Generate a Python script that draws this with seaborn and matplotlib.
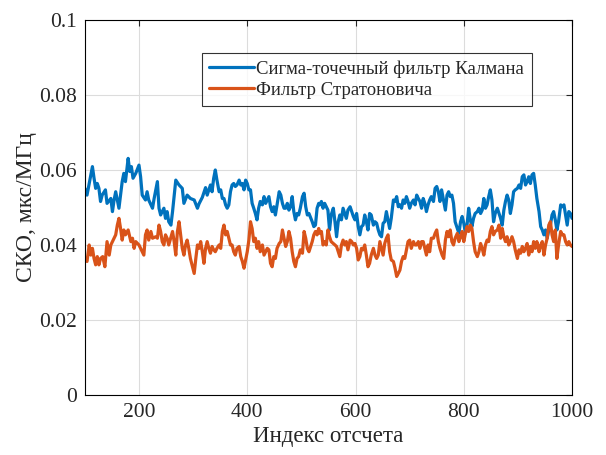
import numpy as np
import pandas as pd
import matplotlib
matplotlib.use("Agg")
import matplotlib.pyplot as plt
import seaborn as sns

# values
ukf_idx = [100, 104, 111, 114, 117, 120, 123, 126, 129, 132, 138, 141, 148, 151, 154, 157, 163, 169, 172, 175,
           180, 183, 186, 189, 194, 200, 203, 206, 212, 215, 218, 225, 228, 234, 237, 240, 246, 249, 252, 255,
           259, 262, 268, 274, 280, 283, 289, 295, 302, 308, 311, 317, 323, 326, 332, 335, 338, 341, 344, 348,
           351, 354, 357, 360, 363, 366, 369, 372, 375, 378, 381, 385, 388, 391, 394, 397, 400, 403, 406, 409,
           412, 415, 418, 421, 424, 428, 431, 434, 437, 440, 443, 446, 449, 452, 459, 462, 465, 468, 471, 474,
           477, 480, 483, 486, 489, 492, 495, 498, 502, 505, 508, 511, 514, 520, 523, 526, 529, 532, 534, 537,
           540, 543, 546, 549, 552, 555, 559, 562, 565, 568, 571, 574, 577, 580, 583, 586, 590, 593, 596, 599,
           602, 605, 608, 611, 614, 617, 620, 623, 626, 629, 633, 636, 639, 642, 645, 648, 651, 654, 657, 660,
           663, 666, 670, 673, 676, 679, 682, 685, 688, 691, 694, 697, 700, 703, 707, 710, 713, 716, 719, 722,
           725, 728, 731, 734, 737, 740, 744, 747, 750, 753, 756, 759, 763, 766, 769, 772, 775, 778, 781, 784,
           788, 791, 794, 797, 800, 803, 806, 809, 812, 815, 818, 821, 825, 828, 831, 834, 837, 840, 843, 846,
           849, 852, 855, 858, 862, 865, 868, 871, 874, 877, 880, 883, 886, 889, 892, 895, 899, 902, 905, 908,
           911, 914, 917, 920, 923, 926, 929, 932, 935, 939, 942, 945, 948, 951, 954, 957, 960, 963, 966, 969,
           972, 975, 979, 982, 985, 988, 991, 994, 997, 1000]
ukf_rmse = [0.0551, 0.0533, 0.0587, 0.0609, 0.0578, 0.0551, 0.0564, 0.0551, 0.0516, 0.0533, 0.0547, 0.0511, 0.0524, 0.0489, 0.0520, 0.0542, 0.0498, 0.0569, 0.0591, 0.0569,
            0.0631, 0.0596, 0.0609, 0.0578, 0.0591, 0.0613, 0.0582, 0.0533, 0.0520, 0.0542, 0.0520, 0.0498, 0.0524, 0.0569, 0.0498, 0.0480, 0.0498, 0.0471, 0.0489, 0.0462,
            0.0453, 0.0489, 0.0573, 0.0560, 0.0551, 0.0511, 0.0533, 0.0524, 0.0520, 0.0498, 0.0510, 0.0527, 0.0553, 0.0533, 0.0560, 0.0542, 0.0578, 0.0600, 0.0573, 0.0542,
            0.0547, 0.0524, 0.0524, 0.0507, 0.0498, 0.0507, 0.0542, 0.0560, 0.0564, 0.0556, 0.0560, 0.0573, 0.0560, 0.0564, 0.0547, 0.0573, 0.0564, 0.0547, 0.0547, 0.0511,
            0.0498, 0.0484, 0.0467, 0.0498, 0.0516, 0.0507, 0.0529, 0.0511, 0.0520, 0.0529, 0.0502, 0.0489, 0.0502, 0.0480, 0.0542, 0.0533, 0.0511, 0.0498, 0.0498, 0.0511,
            0.0493, 0.0502, 0.0529, 0.0489, 0.0467, 0.0484, 0.0480, 0.0498, 0.0529, 0.0538, 0.0502, 0.0480, 0.0484, 0.0462, 0.0449, 0.0453, 0.0498, 0.0511, 0.0507, 0.0516,
            0.0498, 0.0511, 0.0502, 0.0493, 0.0440, 0.0480, 0.0498, 0.0462, 0.0422, 0.0462, 0.0480, 0.0467, 0.0498, 0.0484, 0.0471, 0.0493, 0.0502, 0.0489, 0.0476, 0.0467,
            0.0484, 0.0449, 0.0427, 0.0449, 0.0453, 0.0480, 0.0462, 0.0440, 0.0484, 0.0480, 0.0453, 0.0462, 0.0458, 0.0440, 0.0427, 0.0422, 0.0458, 0.0462, 0.0489, 0.0467,
            0.0444, 0.0471, 0.0520, 0.0516, 0.0529, 0.0502, 0.0507, 0.0498, 0.0520, 0.0511, 0.0529, 0.0516, 0.0498, 0.0511, 0.0520, 0.0507, 0.0533, 0.0524, 0.0516, 0.0498,
            0.0524, 0.0511, 0.0489, 0.0507, 0.0520, 0.0529, 0.0516, 0.0551, 0.0556, 0.0542, 0.0516, 0.0547, 0.0516, 0.0493, 0.0533, 0.0542, 0.0529, 0.0533, 0.0511, 0.0462,
            0.0444, 0.0431, 0.0462, 0.0476, 0.0458, 0.0431, 0.0453, 0.0498, 0.0467, 0.0449, 0.0471, 0.0484, 0.0489, 0.0498, 0.0484, 0.0493, 0.0524, 0.0498, 0.0507, 0.0529,
            0.0547, 0.0520, 0.0462, 0.0484, 0.0498, 0.0484, 0.0471, 0.0453, 0.0493, 0.0516, 0.0533, 0.0520, 0.0484, 0.0507, 0.0542, 0.0547, 0.0551, 0.0560, 0.0551, 0.0582,
            0.0587, 0.0560, 0.0569, 0.0582, 0.0564, 0.0587, 0.0591, 0.0560, 0.0524, 0.0489, 0.0449, 0.0440, 0.0427, 0.0440, 0.0418, 0.0440, 0.0453, 0.0480, 0.0489, 0.0467,
            0.0440, 0.0462, 0.0507, 0.0502, 0.0507, 0.0480, 0.0453, 0.0489, 0.0484, 0.0471]

strat_idx = [100, 104, 108, 111, 114, 117, 120, 123, 126, 129, 133, 137, 141, 145, 148, 151, 157, 160, 163, 166,
             169, 172, 175, 180, 185, 188, 191, 194, 200, 203, 209, 212, 215, 218, 222, 225, 231, 234, 237, 240,
             243, 246, 249, 252, 255, 262, 265, 268, 271, 274, 277, 280, 283, 286, 289, 292, 295, 302, 305, 308,
             311, 314, 317, 320, 323, 326, 329, 332, 335, 338, 341, 344, 348, 351, 354, 357, 360, 363, 366, 369,
             372, 375, 378, 381, 385, 388, 391, 394, 397, 400, 403, 406, 409, 412, 415, 418, 421, 424, 428, 431,
             434, 437, 440, 443, 446, 449, 452, 455, 459, 462, 465, 468, 471, 474, 477, 480, 483, 486, 489, 492,
             495, 498, 502, 505, 508, 511, 514, 517, 520, 523, 526, 529, 532, 534, 537, 540, 543, 546, 549, 552,
             555, 559, 562, 565, 568, 571, 574, 577, 580, 583, 586, 590, 593, 596, 599, 602, 605, 608, 611, 614,
             617, 620, 623, 626, 629, 633, 636, 639, 642, 645, 648, 651, 654, 657, 660, 663, 666, 670, 673, 676,
             679, 682, 685, 688, 691, 694, 697, 700, 703, 707, 710, 713, 716, 719, 722, 725, 728, 731, 734, 737,
             740, 744, 747, 750, 753, 756, 760, 763, 766, 769, 772, 775, 778, 781, 784, 788, 791, 794, 797, 800,
             803, 806, 809, 812, 815, 818, 821, 825, 828, 831, 834, 837, 840, 843, 846, 849, 852, 855, 858, 862,
             865, 868, 871, 874, 877, 880, 883, 886, 889, 892, 895, 899, 902, 905, 908, 911, 914, 917, 920, 923,
             926, 929, 932, 935, 939, 942, 945, 948, 951, 954, 957, 960, 963, 966, 969, 972, 975, 979, 982, 985,
             988, 991, 994, 997, 1000]
strat_rmse = [0.0364, 0.0356, 0.0400, 0.0373, 0.0391, 0.0364, 0.0347, 0.0369, 0.0347, 0.0364, 0.0369, 0.0342, 0.0409, 0.0373, 0.0400, 0.0409, 0.0427, 0.0453, 0.0471, 0.0444,
              0.0413, 0.0440, 0.0427, 0.0440, 0.0409, 0.0418, 0.0391, 0.0409, 0.0400, 0.0391, 0.0373, 0.0427, 0.0440, 0.0413, 0.0436, 0.0418, 0.0422, 0.0418, 0.0453, 0.0436,
              0.0409, 0.0400, 0.0427, 0.0418, 0.0400, 0.0436, 0.0409, 0.0373, 0.0436, 0.0462, 0.0427, 0.0391, 0.0373, 0.0400, 0.0413, 0.0391, 0.0364, 0.0324, 0.0364, 0.0400,
              0.0391, 0.0409, 0.0382, 0.0351, 0.0391, 0.0409, 0.0391, 0.0378, 0.0396, 0.0387, 0.0382, 0.0391, 0.0400, 0.0391, 0.0436, 0.0453, 0.0427, 0.0436, 0.0418, 0.0400,
              0.0400, 0.0382, 0.0373, 0.0391, 0.0396, 0.0369, 0.0356, 0.0338, 0.0360, 0.0382, 0.0413, 0.0462, 0.0444, 0.0409, 0.0418, 0.0391, 0.0409, 0.0382, 0.0400, 0.0373,
              0.0382, 0.0391, 0.0387, 0.0351, 0.0342, 0.0369, 0.0364, 0.0391, 0.0404, 0.0409, 0.0440, 0.0418, 0.0396, 0.0409, 0.0436, 0.0418, 0.0382, 0.0356, 0.0342, 0.0364,
              0.0369, 0.0387, 0.0378, 0.0436, 0.0418, 0.0391, 0.0382, 0.0396, 0.0409, 0.0427, 0.0436, 0.0427, 0.0444, 0.0431, 0.0436, 0.0400, 0.0409, 0.0400, 0.0440, 0.0422,
              0.0409, 0.0404, 0.0400, 0.0396, 0.0382, 0.0369, 0.0400, 0.0413, 0.0400, 0.0409, 0.0387, 0.0413, 0.0409, 0.0400, 0.0404, 0.0391, 0.0360, 0.0369, 0.0391, 0.0387,
              0.0400, 0.0373, 0.0342, 0.0351, 0.0373, 0.0391, 0.0373, 0.0364, 0.0373, 0.0409, 0.0391, 0.0373, 0.0404, 0.0418, 0.0427, 0.0382, 0.0360, 0.0356, 0.0338, 0.0316,
              0.0324, 0.0333, 0.0356, 0.0369, 0.0364, 0.0387, 0.0409, 0.0413, 0.0391, 0.0409, 0.0400, 0.0400, 0.0409, 0.0391, 0.0409, 0.0409, 0.0391, 0.0373, 0.0400, 0.0382,
              0.0418, 0.0418, 0.0431, 0.0440, 0.0409, 0.0391, 0.0373, 0.0364, 0.0413, 0.0436, 0.0422, 0.0440, 0.0409, 0.0400, 0.0418, 0.0431, 0.0409, 0.0422, 0.0436, 0.0409,
              0.0431, 0.0449, 0.0436, 0.0453, 0.0444, 0.0409, 0.0382, 0.0369, 0.0382, 0.0404, 0.0391, 0.0373, 0.0400, 0.0413, 0.0409, 0.0436, 0.0449, 0.0427, 0.0436, 0.0440,
              0.0453, 0.0418, 0.0444, 0.0422, 0.0409, 0.0422, 0.0400, 0.0409, 0.0422, 0.0409, 0.0387, 0.0364, 0.0387, 0.0378, 0.0396, 0.0382, 0.0391, 0.0404, 0.0373, 0.0396,
              0.0382, 0.0409, 0.0391, 0.0409, 0.0382, 0.0400, 0.0409, 0.0373, 0.0400, 0.0418, 0.0453, 0.0462, 0.0427, 0.0409, 0.0440, 0.0364, 0.0400, 0.0436, 0.0427, 0.0427,
              0.0409, 0.0400, 0.0409, 0.0400, 0.0396]

series_names = ["Сигма-точечный фильтр Калмана", "Фильтр Стратоновича"]
series_colors = ["#0072BD", "#D95319"]
x_ticks = [200, 400, 600, 800, 1000]
y_ticks = [0, 0.02, 0.04, 0.06, 0.08, 0.1]
y_tick_labels = ["0", "0.02", "0.04", "0.06", "0.08", "0.1"]

df = pd.concat([
    pd.DataFrame({"idx": ukf_idx, "rmse": ukf_rmse, "filter": series_names[0]}),
    pd.DataFrame({"idx": strat_idx, "rmse": strat_rmse, "filter": series_names[1]}),
])

sns.set_style("white")
plt.rcParams["font.family"] = ["Liberation Serif", "DejaVu Serif"]

fig = plt.figure(figsize=(6.06, 4.55), dpi=100)
ax = fig.add_axes([0.140, 0.132, 0.804, 0.824])
sns.lineplot(data=df, x="idx", y="rmse", hue="filter", palette=series_colors,
             hue_order=series_names, linewidth=2.3, ax=ax, estimator=None, sort=False)

ax.set_xlim(100, 1000)
ax.set_ylim(0, 0.1)
ax.set_xticks(x_ticks)
ax.set_yticks(y_ticks)
ax.set_yticklabels(y_tick_labels)
ax.tick_params(direction="in", labelsize=15.5, length=4, top=True, right=True,
               labeltop=False, labelright=False, pad=6)
ax.grid(True, color="#dcdcdc", linewidth=0.8)
for s in ax.spines.values():
    s.set_color("black")
    s.set_linewidth(0.8)
ax.set_xlabel("Индекс отсчета", fontsize=16.5, labelpad=3)
ax.set_ylabel("СКО, мкс/МГц", fontsize=17, labelpad=1)

leg = ax.legend(loc="upper left", bbox_to_anchor=(0.240, 0.912), fontsize=13.5,
                frameon=True, fancybox=False, edgecolor="black", handlelength=2.4,
                handletextpad=0.1, borderpad=0.4, labelspacing=0.2, borderaxespad=0)
leg.get_frame().set_linewidth(0.8)
for line in leg.get_lines():
    line.set_linewidth(2.3)

fig.savefig("out.png", dpi=100)
